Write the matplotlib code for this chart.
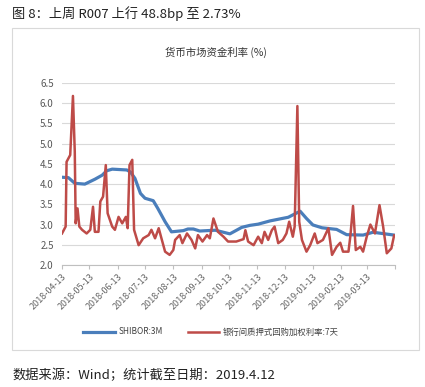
import matplotlib
matplotlib.use("Agg")
import matplotlib.pyplot as plt
from matplotlib.patches import Rectangle
import pandas as pd

plt.rcParams['font.family'] = ['Noto Sans CJK SC', 'DejaVu Sans']

# SHIBOR 3M
shibor_dates = ["2018-04-13", "2018-04-20", "2018-04-27", "2018-05-08", "2018-05-19", "2018-05-27",
                "2018-06-01", "2018-06-07", "2018-06-23", "2018-06-27", "2018-07-02", "2018-07-08",
                "2018-07-13", "2018-07-22", "2018-07-27", "2018-08-04", "2018-08-11", "2018-08-24",
                "2018-08-29", "2018-09-04", "2018-09-11", "2018-09-28", "2018-10-14", "2018-10-27",
                "2018-11-05", "2018-11-14", "2018-11-27", "2018-12-08", "2018-12-17", "2018-12-30",
                "2019-01-06", "2019-01-13", "2019-01-23", "2019-02-08", "2019-02-19", "2019-03-09",
                "2019-03-20", "2019-04-02", "2019-04-12"]
shibor_vals = [4.17, 4.16, 4.02, 4.00, 4.12, 4.22,
               4.33, 4.37, 4.35, 4.30, 4.14, 3.77,
               3.65, 3.59, 3.40, 3.07, 2.82, 2.85,
               2.89, 2.89, 2.84, 2.86, 2.77, 2.93,
               2.98, 3.01, 3.09, 3.14, 3.18, 3.33,
               3.15, 2.99, 2.92, 2.88, 2.75, 2.74,
               2.81, 2.77, 2.74]

# 银行间质押式回购加权利率:7天
repo_dates = ["2018-04-13", "2018-04-17", "2018-04-18", "2018-04-22", "2018-04-25", "2018-04-27",
              "2018-04-28", "2018-04-30", "2018-05-02", "2018-05-05", "2018-05-10", "2018-05-14",
              "2018-05-17", "2018-05-19", "2018-05-23", "2018-05-25", "2018-05-28", "2018-05-31",
              "2018-06-02", "2018-06-07", "2018-06-10", "2018-06-14", "2018-06-18", "2018-06-22",
              "2018-06-24", "2018-06-26", "2018-06-29", "2018-07-01", "2018-07-06", "2018-07-11",
              "2018-07-17", "2018-07-20", "2018-07-24", "2018-07-28", "2018-07-31", "2018-08-04",
              "2018-08-09", "2018-08-13", "2018-08-15", "2018-08-20", "2018-08-23", "2018-08-28",
              "2018-09-02", "2018-09-06", "2018-09-09", "2018-09-14", "2018-09-19", "2018-09-22",
              "2018-09-26", "2018-09-29", "2018-10-01", "2018-10-07", "2018-10-12", "2018-10-21",
              "2018-10-29", "2018-10-31", "2018-11-03", "2018-11-09", "2018-11-14", "2018-11-18",
              "2018-11-21", "2018-11-25", "2018-11-29", "2018-12-02", "2018-12-06", "2018-12-11",
              "2018-12-15", "2018-12-18", "2018-12-22", "2018-12-24", "2018-12-27", "2018-12-29",
              "2019-01-01", "2019-01-06", "2019-01-10", "2019-01-15", "2019-01-18", "2019-01-24",
              "2019-01-30", "2019-02-03", "2019-02-08", "2019-02-12", "2019-02-15", "2019-02-21",
              "2019-02-23", "2019-02-26", "2019-03-01", "2019-03-06", "2019-03-09", "2019-03-13",
              "2019-03-17", "2019-03-22", "2019-03-27", "2019-03-31", "2019-04-04", "2019-04-09",
              "2019-04-12"]
repo_vals = [2.78, 2.95, 4.55, 4.72, 6.18, 4.80,
             3.03, 3.40, 2.95, 2.87, 2.78, 2.87,
             3.44, 2.82, 2.82, 3.57, 3.69, 4.47,
             3.28, 2.95, 2.87, 3.19, 3.03, 3.19,
             2.91, 4.47, 4.60, 2.87, 2.49, 2.66,
             2.74, 2.87, 2.66, 2.91, 2.66, 2.33,
             2.25, 2.37, 2.62, 2.74, 2.54, 2.78,
             2.62, 2.41, 2.74, 2.58, 2.74, 2.66,
             3.15, 2.95, 2.82, 2.70, 2.58, 2.58,
             2.64, 2.86, 2.58, 2.49, 2.70, 2.54,
             2.82, 2.62, 2.86, 2.95, 2.54, 2.62,
             2.78, 3.07, 2.70, 2.95, 5.93, 3.07,
             2.62, 2.33, 2.49, 2.78, 2.54, 2.62,
             2.91, 2.25, 2.45, 2.55, 2.33, 2.33,
             2.70, 3.46, 2.37, 2.45, 2.33, 2.70,
             3.00, 2.78, 3.48, 2.95, 2.29, 2.41,
             2.73]

tick_labels = ["2018-04-13", "2018-05-13", "2018-06-13", "2018-07-13", "2018-08-13", "2018-09-13",
               "2018-10-13", "2018-11-13", "2018-12-13", "2019-01-13", "2019-02-13", "2019-03-13"]
y_ticks = [2.0, 2.5, 3.0, 3.5, 4.0, 4.5, 5.0, 5.5, 6.0, 6.5]

W, H = 425, 387
fig = plt.figure(figsize=(W / 100, H / 100), dpi=100)

# outer frame
fig.patches.append(Rectangle((12 / W, 1 - 350 / H), (419 - 12) / W, (350 - 28) / H,
                             transform=fig.transFigure, fill=False, edgecolor='#d9d9d9', lw=0.8))

ax = fig.add_axes([62 / W, 1 - 265 / H, (395 - 62) / W, (265 - 83) / H])

blue = '#4a7ebb'
red = '#be4b48'
ax.plot(pd.to_datetime(shibor_dates), shibor_vals, color=blue, lw=2.3, label='SHIBOR:3M')
ax.plot(pd.to_datetime(repo_dates), repo_vals, color=red, lw=1.8, label='银行间质押式回购加权利率:7天')

ax.set_xlim(pd.Timestamp("2018-04-13"), pd.Timestamp("2019-04-13"))
ax.set_ylim(2.0, 6.5)
ax.set_yticks(y_ticks)
ax.set_yticklabels([f"{v:.1f}" for v in y_ticks])
ax.yaxis.grid(True, color='#d9d9d9', lw=0.8)
ax.set_axisbelow(True)

ticks = list(pd.to_datetime(tick_labels)) + [pd.Timestamp("2019-04-13")]
ax.set_xticks(ticks)
ax.set_xticklabels(tick_labels + [""], rotation=45, ha='right', rotation_mode='anchor')

for s in ['top', 'right', 'left']:
    ax.spines[s].set_visible(False)
ax.spines['bottom'].set_color('#bfbfbf')
ax.tick_params(axis='y', length=0, labelsize=7, labelcolor='#595959', pad=6)
ax.tick_params(axis='x', length=3, color='#bfbfbf', labelsize=6.5, labelcolor='#666666', pad=2)

fig.text(12 / W, 1 - 14 / H, "图 8：上周 R007 上行 48.8bp 至 2.73%", fontsize=9.5,
         va='center', ha='left', color='#222222')
fig.text(216 / W, 1 - 52 / H, "货币市场资金利率 (%)", fontsize=7.5, va='center', ha='center',
         color='#333333')
fig.text(12 / W, 1 - 375 / H, "数据来源：Wind；统计截至日期：2019.4.12", fontsize=9.5,
         va='center', ha='left', color='#222222')

fig.legend(loc='center', bbox_to_anchor=(211 / W, 1 - 332 / H), ncol=2, frameon=False,
           fontsize=6, handlelength=3.8, columnspacing=3.0, handletextpad=0.4,
           labelcolor='#404040')

fig.savefig("out.png", dpi=100)
